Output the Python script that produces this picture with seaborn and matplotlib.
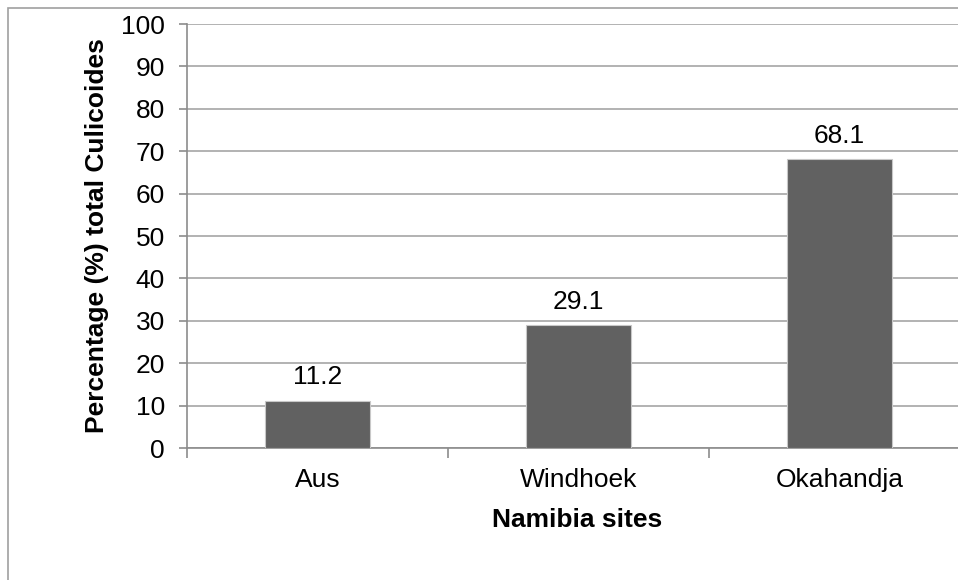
import matplotlib
matplotlib.use("Agg")
import matplotlib.pyplot as plt
import seaborn as sns
import pandas as pd
from matplotlib.patches import Rectangle

sites = ["Aus", "Windhoek", "Okahandja"]
percentages = [11.2, 29.1, 68.1]
y_ticks = [0, 10, 20, 30, 40, 50, 60, 70, 80, 90, 100]

sns.set_theme(style="white")
plt.rcParams["font.family"] = ["Liberation Sans", "DejaVu Sans"]

df = pd.DataFrame({"site": sites, "pct": percentages})

FS = 19

fig = plt.figure(figsize=(9.58, 5.8), dpi=100)
ax = fig.add_axes([187/958, 132/580, (970-187)/958, (448-24)/580])

sns.barplot(data=df, x="site", y="pct", ax=ax, color="#616161", width=0.4,
            edgecolor="#c8c8c8", linewidth=0.8, saturation=1, zorder=3)

ax.set_ylim(0, 100)
ax.set_xlim(-0.5, 2.5)
ax.set_yticks(y_ticks)
ax.yaxis.grid(True, color="#a6a6a6", linewidth=1.2, zorder=0)
ax.set_axisbelow(True)

for sp in ["top", "right"]:
    ax.spines[sp].set_visible(False)
for sp in ["left", "bottom"]:
    ax.spines[sp].set_color("#8c8c8c")
    ax.spines[sp].set_linewidth(1.2)

ax.tick_params(axis="y", which="both", left=True, length=6, width=1.2, color="#8c8c8c",
               labelsize=FS, pad=10, labelcolor="black")
ax.set_xticks([0, 1, 2])
ax.set_xticklabels(sites)
ax.tick_params(axis="x", which="major", bottom=False, labelsize=FS, pad=8.5, labelcolor="black")
ax.set_xticks([-0.5, 0.5, 1.5], minor=True)
ax.tick_params(axis="x", which="minor", bottom=True, length=7, width=1.2, color="#8c8c8c")

for i, v in enumerate(percentages):
    ax.annotate(f"{v}", (i, v), xytext=(0, 8), textcoords="offset points",
                ha="center", va="bottom", fontsize=FS, color="black")

ax.set_xlabel("Namibia sites", fontsize=FS, fontweight="bold", color="black")
ax.set_ylabel("Percentage (%) total Culicoides", fontsize=FS, fontweight="bold", color="black")
ax.xaxis.set_label_coords((577-187)/783, (448-520)/424)
ax.xaxis.label.set_va("center")
ax.yaxis.set_label_coords((97-187)/783, 0.5)
ax.yaxis.label.set_va("center")

fig.patches.append(Rectangle((8/958, -0.5), 2, (580-8)/580 + 0.5, transform=fig.transFigure,
                             fill=False, edgecolor="#a0a0a0", linewidth=1.2))

fig.savefig("out.png", dpi=100)
